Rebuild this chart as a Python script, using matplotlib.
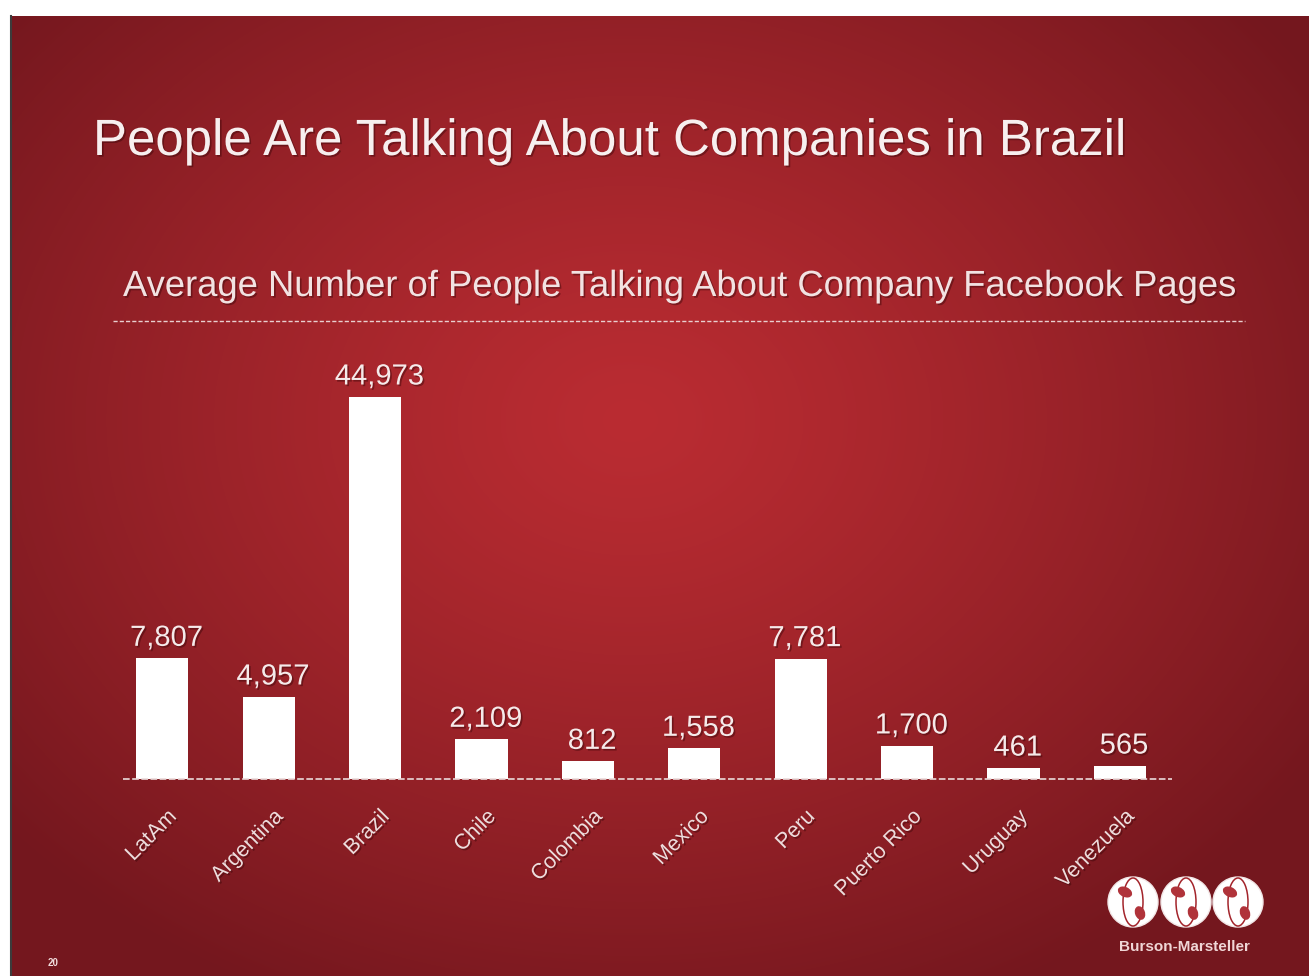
import matplotlib
matplotlib.use('Agg')
import matplotlib.pyplot as plt
import matplotlib.patheffects as pe
import matplotlib.transforms as mtransforms
from matplotlib.patches import Circle, Ellipse
import numpy as np

countries = ["LatAm", "Argentina", "Brazil", "Chile", "Colombia",
             "Mexico", "Peru", "Puerto Rico", "Uruguay", "Venezuela"]
talking = [7807, 4957, 44973, 2109, 812, 1558, 7781, 1700, 461, 565]

title = "People Are Talking About Companies in Brazil"
subtitle = "Average Number of People Talking About Company Facebook Pages"

W, H = 1309, 976
plt.rcParams['font.family'] = ['Liberation Sans', 'DejaVu Sans']

fig = plt.figure(figsize=(W / 100, H / 100), dpi=100)
fig.patch.set_facecolor('white')

# slide background, pixel coordinates
bg = fig.add_axes([0, 0, 1, 1])
bg.set_xlim(0, W)
bg.set_ylim(H, 0)
bg.axis('off')

sx0, sy0 = 11, 16
yy, xx = np.mgrid[sy0:H, sx0:W]
r = np.sqrt(((xx - 630) / 820.0) ** 2 + ((yy - 420) / 640.0) ** 2)
t = np.clip(r, 0, 1) ** 1.25
c_mid = np.array([186, 44, 50]) / 255.0
c_edge = np.array([116, 23, 30]) / 255.0
img = c_mid[None, None, :] * (1 - t[..., None]) + c_edge[None, None, :] * t[..., None]
bg.imshow(img, extent=(sx0, W, H, sy0), aspect='auto', interpolation='bilinear')
bg.plot([10.5, 10.5], [sy0, H], color='#3c3c3c', lw=1.5)

shadow = [pe.SimplePatchShadow(offset=(1.2, -1.2), shadow_rgbFace='#3a0508', alpha=0.45), pe.Normal()]

bg.text(93, 155, title, fontsize=36.7, color='#f7efef', ha='left', va='baseline',
        path_effects=shadow)
bg.text(123, 296, subtitle, fontsize=26.2, color='#f2e2e2', ha='left', va='baseline',
        path_effects=shadow)
bg.plot([113, 1245], [321, 321], color='#e9cfcf', lw=1.0, ls=(0, (3, 1.5)))

# page number
bg.text(48, 966, "20", fontsize=7, color='#f0dcdc', ha='left', va='baseline', fontweight='bold')

# Burson-Marsteller logo
for cx in [1133, 1186, 1238]:
    bg.add_patch(Circle((cx, 902), 25, facecolor='white', edgecolor='#f2e6e6', lw=1, zorder=3))
    bg.add_patch(Ellipse((cx, 902), 20, 48, facecolor='none', edgecolor='#a3242b', lw=1.1, zorder=4))
    bg.add_patch(Ellipse((cx - 8, 892), 15, 10, angle=25, facecolor='#b0333a', edgecolor='none', zorder=4))
    bg.add_patch(Ellipse((cx + 7, 913), 10, 14, angle=-20, facecolor='#b0333a', edgecolor='none', zorder=4))
bg.text(1184, 951, "Burson-Marsteller", fontsize=11, color='#f0d6d6', ha='center', va='baseline',
        fontweight='bold')

# chart axes: baseline at y=779px, Brazil bar top at y=397px
ax = fig.add_axes([123 / W, 1 - 779 / H, (1172 - 123) / W, (779 - 397) / H])
ax.patch.set_alpha(0)

# power scale with extra compression above G0 so the Brazil bar fits
P, G0, C = 0.85, 2100.0, 0.628


def fwd(v):
    g = np.power(np.clip(v, 0, None), P)
    return np.where(g <= G0, g, G0 + C * (g - G0))


def inv(s):
    s = np.clip(s, 0, None)
    g = np.where(s <= G0, s, G0 + (s - G0) / C)
    return np.power(g, 1.0 / P)


ax.set_yscale('function', functions=(fwd, inv))
x = np.arange(len(countries))
ax.bar(x, talking, width=0.49, color='white', zorder=2)
ax.axhline(0, color='#eadada', lw=1.2, ls=(0, (4, 1.5)), zorder=3, clip_on=False)

ax.set_xlim(-0.37, 9.49)
ax.set_ylim(0, max(talking))

for xi, v in zip(x, talking):
    ax.annotate(f"{v:,}", (xi, v), xytext=(3, 9), textcoords='offset points',
                ha='center', va='baseline', fontsize=21, color='#f5eaea',
                path_effects=shadow, annotation_clip=False)

ax.set_xticks(x)
ax.set_xticklabels(countries, rotation=45, ha='right', va='center',
                   rotation_mode='anchor', fontsize=15.5, color='#eddcdc')
ax.tick_params(axis='x', length=0, pad=25)
off = mtransforms.ScaledTranslation(8 / 72, 0, fig.dpi_scale_trans)
for lab in ax.get_xticklabels():
    lab.set_transform(lab.get_transform() + off)
    lab.set_path_effects(shadow)
ax.set_yticks([])
for s in ax.spines.values():
    s.set_visible(False)

fig.savefig('out.png', dpi=100, facecolor='white')
